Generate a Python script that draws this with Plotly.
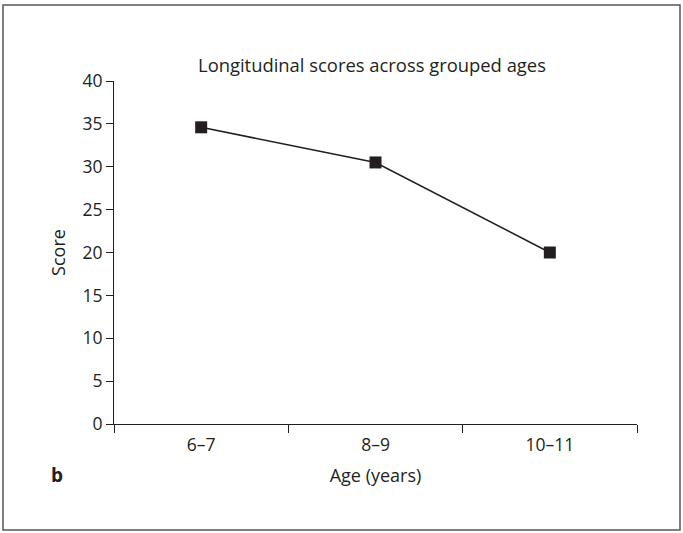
import plotly.graph_objects as go

# Mean scores by age group
age_groups = ["6–7", "8–9", "10–11"]
scores = [34.6, 30.5, 20.0]
y_ticks = [0, 5, 10, 15, 20, 25, 30, 35, 40]

W, H = 683, 533
ML, MR, MT, MB = 114, 46, 81, 109
pw, ph = W - ML - MR, H - MT - MB

ink = "#231f20"
font = "Open Sans"

fig = go.Figure()
fig.add_trace(go.Scatter(
    x=age_groups, y=scores, mode="lines+markers",
    line=dict(color=ink, width=1.5),
    marker=dict(symbol="square", size=12, color=ink),
    showlegend=False,
))

fig.update_layout(
    width=W, height=H,
    margin=dict(l=ML, r=MR, t=MT, b=MB),
    paper_bgcolor="white", plot_bgcolor="white",
    font=dict(family=font, size=17, color=ink),
    title=dict(text="Longitudinal scores across grouped ages",
               x=(372 - ML) / pw, xref="paper", y=(H - 66) / H,
               yanchor="middle", xanchor="center",
               font=dict(family=font, size=18.4, color=ink)),
    xaxis=dict(
        type="category", range=[-0.5, 2.5],
        showline=True, linecolor=ink, linewidth=1,
        ticks="outside", tickson="boundaries", ticklen=8, tickcolor=ink,
        ticklabelstandoff=5, tickfont=dict(family=font, size=17.5, color=ink),
        showgrid=False, zeroline=False,
        title=dict(text="Age (years)", standoff=14,
                   font=dict(family=font, size=18, color=ink)),
    ),
    yaxis=dict(
        range=[0, 40], tickvals=y_ticks,
        showline=True, linecolor=ink, linewidth=1,
        ticks="outside", ticklen=7, tickcolor=ink,
        tickfont=dict(family=font, size=17.5, color=ink),
        showgrid=False, zeroline=False,
        title=dict(text="Score", standoff=12,
                   font=dict(family=font, size=18, color=ink)),
    ),
)

# Panel letter
fig.add_annotation(text="<b>b</b>", xref="paper", yref="paper",
                   x=(57 - ML) / pw, y=-(475 - MT - ph) / ph,
                   showarrow=False, font=dict(family=font, size=19, color=ink),
                   xanchor="center", yanchor="middle")

# Frame around the whole panel
fig.add_shape(type="rect", xref="paper", yref="paper",
              x0=(3 - ML) / pw, x1=(680 - ML) / pw,
              y0=-(530 - MT - ph) / ph, y1=1 + (MT - 5) / ph,
              line=dict(color="#555555", width=1.5))

fig.write_html("out.html")
